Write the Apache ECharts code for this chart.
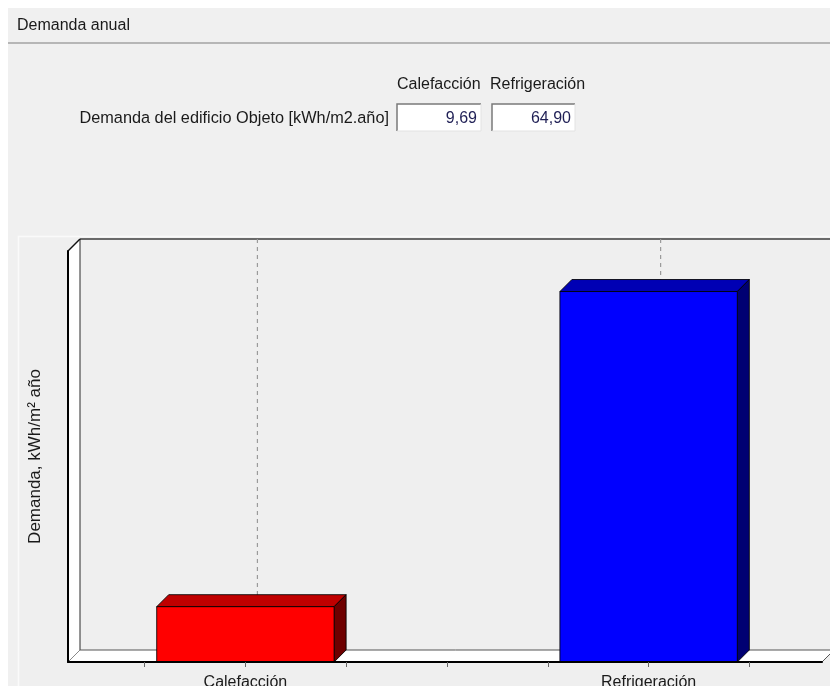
<!DOCTYPE html>
<html>
<head>
<meta charset="utf-8">
<script src="https://cdn.jsdelivr.net/npm/echarts@6/dist/echarts.min.js"></script>
<style>
html,body{margin:0;padding:0;background:#ffffff;}
#c{width:830px;height:686px;}
</style>
</head>
<body>
<div id="c"></div>
<script>
// ---- data ----
const categories = ['Calefacción', 'Refrigeración'];
const demanda = [9.69, 64.90];
const yMax = 72;
const xTickValues = [0.75, 1, 1.25, 1.5, 1.75, 2, 2.25];
const rowLabel = 'Demanda del edificio Objeto [kWh/m2.año]';
const panelTitle = 'Demanda anual';
const yAxisTitle = 'Demanda, kWh/m² año';

// ---- styles ----
const FONT = '"Liberation Sans", Arial, sans-serif';
const D = 12; // 3D depth in px
const faceColors = [
  { front: '#ff0000', top: '#c00000', side: '#6e0000' },
  { front: '#0000ff', top: '#0000b4', side: '#000072' }
];

const fmt = v => v.toFixed(2).replace('.', ',');

const barData = demanda.map((v, i) => [i + 1, v]);

const chart = echarts.init(document.getElementById('c'), null, { renderer: 'canvas' });

function frameItem(params, api) {
  const cs = params.coordSys;
  const x = cs.x, y = cs.y, w = cs.width, h = cs.height;
  const b = y + h;
  return {
    type: 'group',
    children: [
      { type: 'polygon', shape: { points: [[x, b], [x, y], [x + D, y - D], [x + D, b - D]] },
        style: { fill: '#ffffff' } },
      { type: 'polygon', shape: { points: [[x, b], [x + D, b - D], [x + w + D, b - D], [x + w, b]] },
        style: { fill: '#ffffff' } },
      { type: 'line', shape: { x1: x + D, y1: y - D, x2: x + w + D + 20, y2: y - D },
        style: { stroke: '#6a6a6a', lineWidth: 2 } },
      { type: 'line', shape: { x1: x + D, y1: y - D, x2: x + D, y2: b - D },
        style: { stroke: '#2a2a2a', lineWidth: 1 } },
      { type: 'line', shape: { x1: x + D, y1: b - D, x2: x + w + D, y2: b - D },
        style: { stroke: '#555555', lineWidth: 1 } },
      { type: 'line', shape: { x1: x, y1: y, x2: x + D, y2: y - D },
        style: { stroke: '#111111', lineWidth: 1.5 } },
      { type: 'line', shape: { x1: x, y1: b, x2: x + D, y2: b - D },
        style: { stroke: '#888888', lineWidth: 1 } },
      { type: 'line', shape: { x1: x + w, y1: b, x2: x + w + D, y2: b - D },
        style: { stroke: '#555555', lineWidth: 1 } }
    ]
  };
}

function barItem(params, api) {
  const c = api.value(0), v = api.value(1);
  const p0 = api.coord([c, 0]);
  const p1 = api.coord([c, v]);
  const pTop = api.coord([c, yMax]);
  const bw = api.size([1, 0])[0] * 0.44;
  const l = p0[0] - bw / 2, r = p0[0] + bw / 2;
  const top = p1[1], bot = p0[1];
  const col = faceColors[params.dataIndex % faceColors.length];
  const edge = { stroke: 'rgba(0,0,0,0.85)', lineWidth: 1 };
  return {
    type: 'group',
    children: [
      { type: 'line', shape: { x1: pTop[0] + D, y1: pTop[1] - D, x2: p0[0] + D, y2: p0[1] - D },
        style: { stroke: '#9a9a9a', lineWidth: 1.2, lineDash: [4, 4] } },
      { type: 'polygon', shape: { points: [[l, top], [l + D, top - D], [r + D, top - D], [r, top]] },
        style: Object.assign({ fill: col.top }, edge) },
      { type: 'polygon', shape: { points: [[r, top], [r + D, top - D], [r + D, bot - D], [r, bot]] },
        style: Object.assign({ fill: col.side }, edge) },
      { type: 'rect', shape: { x: l, y: top, width: bw, height: bot - top },
        style: Object.assign({ fill: col.front }, edge) }
    ]
  };
}

function sunkenBox(x, y, w, h, text) {
  return [
    { type: 'rect', shape: { x: x, y: y, width: w, height: h }, style: { fill: '#ffffff' }, z: 1 },
    { type: 'polyline', shape: { points: [[x, y + h], [x, y], [x + w, y]] },
      style: { stroke: '#7a7a7a', lineWidth: 1.5, fill: null }, z: 2 },
    { type: 'polyline', shape: { points: [[x + w, y], [x + w, y + h], [x, y + h]] },
      style: { stroke: '#e2e2e2', lineWidth: 1, fill: null }, z: 2 },
    { type: 'text', x: x + w - 4, y: y + h / 2 + 1,
      style: { text: text, fill: '#1f1f55', font: '16px ' + FONT, textAlign: 'right', textVerticalAlign: 'middle' }, z: 3 }
  ];
}

const option = {
  backgroundColor: '#ffffff',
  animation: false,
  graphic: [
    { type: 'rect', shape: { x: 8, y: 8, width: 830, height: 690 }, style: { fill: '#f0f0f0' }, z: 0 },
    { type: 'line', shape: { x1: 8, y1: 43, x2: 830, y2: 43 }, style: { stroke: '#a3a3a3', lineWidth: 1.5 }, z: 1 },
    { type: 'text', x: 17, y: 26,
      style: { text: panelTitle, fill: '#1a1a1a', font: '16px ' + FONT, textVerticalAlign: 'middle' }, z: 1 },
    { type: 'text', x: 397, y: 85,
      style: { text: categories[0], fill: '#1a1a1a', font: '16px ' + FONT, textVerticalAlign: 'middle' }, z: 1 },
    { type: 'text', x: 490, y: 85,
      style: { text: categories[1], fill: '#1a1a1a', font: '16px ' + FONT, textVerticalAlign: 'middle' }, z: 1 },
    { type: 'text', x: 389, y: 119,
      style: { text: rowLabel, fill: '#1a1a1a', font: '16.3px ' + FONT, textAlign: 'right', textVerticalAlign: 'middle' }, z: 1 },
    ...sunkenBox(397, 104, 84, 27, fmt(demanda[0])),
    ...sunkenBox(492, 104, 83, 27, fmt(demanda[1])),
    { type: 'rect', shape: { x: 18.5, y: 236.5, width: 830, height: 460 },
      style: { fill: '#efefef', stroke: '#fafafa', lineWidth: 1.5 }, z: 1 }
  ],
  grid: { left: 68, top: 251, right: 8, bottom: 24, containLabel: false, outerBoundsMode: 'none' },
  xAxis: {
    type: 'value', min: 0.56, max: 2.43, z: 10,
    axisLine: { show: true, onZero: false, lineStyle: { color: '#000000', width: 2 } },
    axisTick: { show: true, customValues: xTickValues, length: 5, lineStyle: { color: '#666666', width: 1 } },
    axisLabel: {
      customValues: [1, 2],
      formatter: v => categories[Math.round(v) - 1] || '',
      color: '#1a1a1a', fontSize: 16, fontFamily: FONT, margin: 13
    },
    splitLine: { show: false }
  },
  yAxis: {
    type: 'value', min: 0, max: yMax, z: 10,
    name: yAxisTitle, nameLocation: 'middle', nameGap: 24, nameRotate: 90,
    nameTextStyle: { color: '#1a1a1a', fontSize: 17, fontFamily: FONT },
    axisLine: { show: true, lineStyle: { color: '#000000', width: 2 } },
    axisTick: { show: false },
    axisLabel: { show: false },
    splitLine: { show: false }
  },
  series: [
    { type: 'custom', name: 'frame', z: 4, silent: true, clip: false,
      renderItem: frameItem, data: [[1, 0]] },
    { type: 'custom', name: 'Demanda', z: 5, clip: false,
      renderItem: barItem, encode: { x: 0, y: 1 }, data: barData }
  ]
};
chart.setOption(option);
</script>
</body>
</html>
